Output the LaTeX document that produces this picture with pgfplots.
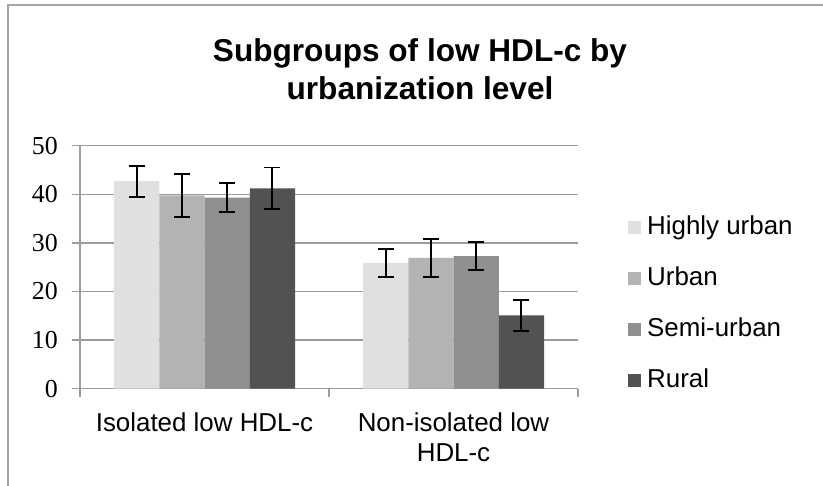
\documentclass[border=0pt]{standalone}
\usepackage{pgfplots}
\pgfplotsset{compat=1.18}
\usepackage{fontspec}
\setmainfont{Liberation Sans}
\newfontfamily\serifnum{Liberation Serif}
\definecolor{cHU}{HTML}{E0E0E0}
\definecolor{cU}{HTML}{B3B3B3}
\definecolor{cSU}{HTML}{8F8F8F}
\definecolor{cR}{HTML}{525252}
\definecolor{gridc}{HTML}{9C9C9C}
\definecolor{framec}{HTML}{A6A6A6}
\pgfplotsset{sqlegend/.style={legend image code/.code={\fill[##1,draw=none] (0bp,-6.5bp) rectangle (13bp,6.5bp);}}}
\begin{document}
\begin{tikzpicture}
\path[use as bounding box] (0,0) rectangle (823bp,486bp);
\draw[framec, line width=1.5bp] (8bp,0) -- (8bp,481bp) -- (823bp,481bp);
\begin{axis}[
  at={(80bp,97.3bp)}, anchor=south west,
  scale only axis, width=498bp, height=243bp,
  ybar=0pt, bar width=45.25bp,
  xmin=-0.5, xmax=1.5, ymin=0, ymax=50,
  axis x line=bottom, axis y line=left,
  axis line style={gridc, line width=1.3bp, -},
  xtick={0,1},
  xticklabels={{Isolated low HDL-c\\\mbox{}}, {Non-isolated low\\HDL-c}},
  minor xtick={-0.5,0.5,1.5},
  ytick={0,10,20,30,40,50},
  tick align=outside,
  major tick length=8bp, minor tick length=8bp,
  x tick style={draw=none},
  minor x tick style={draw=gridc, line width=1.3bp},
  y tick style={gridc, line width=1.3bp},
  ymajorgrids, grid style={gridc, line width=1.3bp},
  /pgf/number format/assume math mode=true,
  xticklabel style={font=\fontsize{26}{30}\selectfont, align=center, anchor=north, inner sep=0pt, yshift=-15.5bp},
  yticklabel style={font=\serifnum\fontsize{26}{30}\selectfont, anchor=east, inner sep=0pt, xshift=-14bp},
  legend style={at={(rel axis cs:1.1004,0.350)}, anchor=west, draw=none, fill=none, inner sep=0pt,
    font=\fontsize{26}{30}\selectfont, row sep=27bp,
    nodes={inner sep=0pt, text height=19bp, text depth=5bp},
    /tikz/every odd column/.append style={column sep=6bp}},
  legend cell align=left,
  error bars/y dir=both, error bars/y explicit,
  error bars/error bar style={black, line width=1.8bp},
  error bars/error mark options={black, rotate=90, mark size=8bp, line width=1.8bp},
]
\addplot[fill=cHU, draw=none, sqlegend] coordinates {(0,42.7) +- (0,3.2) (1,25.9) +- (0,2.9)};
\addplot[fill=cU, draw=none, sqlegend] coordinates {(0,39.8) +- (0,4.4) (1,26.9) +- (0,3.9)};
\addplot[fill=cSU, draw=none, sqlegend] coordinates {(0,39.3) +- (0,3.0) (1,27.3) +- (0,2.9)};
\addplot[fill=cR, draw=none, sqlegend] coordinates {(0,41.2) +- (0,4.3) (1,15.1) +- (0,3.2)};
\legend{Highly urban, Urban, Semi-urban, Rural}
\end{axis}
\node[anchor=base, inner sep=0pt, font=\bfseries\fontsize{31.7}{38}\selectfont] at (420bp,424.3bp) {Subgroups of low HDL-c by};
\node[anchor=base, inner sep=0pt, font=\bfseries\fontsize{31.7}{38}\selectfont] at (420bp,386bp) {urbanization level};
\end{tikzpicture}
\end{document}
